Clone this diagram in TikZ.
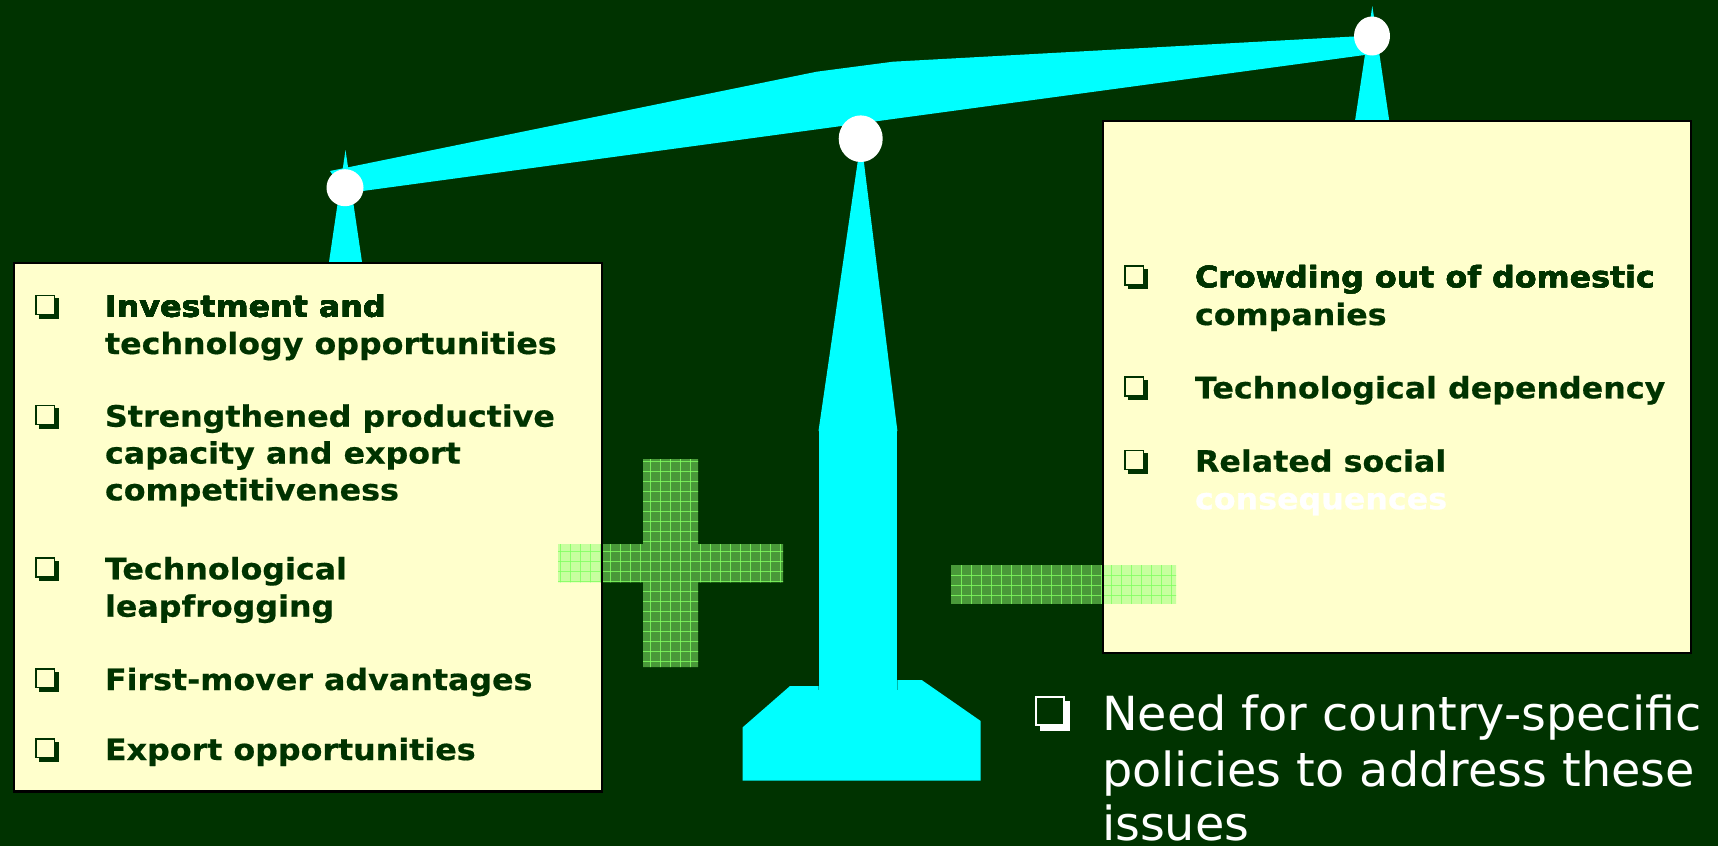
\documentclass[tikz,border=0pt]{standalone}
\usepackage{fontspec}
\setmainfont{DejaVu Sans}
\newfontfamily\itemfont{DejaVu Sans Bold}[FakeStretch=1.075, FakeBold=0.6]
\newfontfamily\notefont{DejaVu Sans}[FakeStretch=1.015]
\definecolor{bgdark}{RGB}{0,51,0}
\definecolor{beamcyan}{RGB}{0,255,255}
\definecolor{paper}{RGB}{255,255,204}
\definecolor{textgreen}{RGB}{0,51,0}
\definecolor{markgreen}{RGB}{146,255,115}
\definecolor{gridgreen}{RGB}{128,255,96}

% shadowed check box: x, top y, size, shadow, line colour, inner colour
\newcommand{\qbox}[6]{%
  \fill[#5] (#1+#4,#2+#4) rectangle (#1+#3,#2+#3);
  \filldraw[fill=#6, draw=#5, line width=1.5pt]
    (#1+0.8,#2+0.8) rectangle (#1+#3-#4-0.8,#2+#3-#4-0.8);}

\begin{document}
\begin{tikzpicture}[x=1pt,y=-1pt,
  metal/.style={fill=beamcyan},
  pin/.style={fill=white},
  panel/.style={fill=paper},
  panelrim/.style={draw=black, line width=2.6pt},
  markfill/.style={fill=markgreen, fill opacity=0.5},
  gridline/.style={draw=gridgreen, line width=0.9pt, opacity=0.8},
  itemtext/.style={anchor=base west, inner sep=0pt, outer sep=0pt,
    text=textgreen, font=\fontsize{29.5}{36}\itemfont},
  notetext/.style={anchor=base west, inner sep=0pt, outer sep=0pt,
    text=white, font=\fontsize{47}{58}\notefont}]

% background and page size
\fill[bgdark] (0,0) rectangle (1718,846);
\useasboundingbox (0,0) rectangle (1718,846);

% stand: tapered post, column and foot
\fill[metal] (861,139) -- (897.4,431) -- (818.5,431) -- cycle;
\fill[metal] (818.5,430) rectangle (897.4,690);
\fill[metal] (818.5,686) -- (790,686) -- (742.7,727.3) -- (742.7,780.7)
  -- (980.7,780.7) -- (980.7,721) -- (921.7,680) -- (897.4,680)
  -- (897.4,690) -- (818.5,690) -- cycle;

% hangers
\fill[metal] (345.5,150) -- (362,262) -- (329,262) -- cycle;
\fill[metal] (1372.3,6) -- (1389.3,121) -- (1355,121) -- cycle;

% beam
\fill[metal] (330,171) -- (816.7,71.7) -- (893,61.7) -- (1372,35.5)
  -- (1372,54) -- (345,193.4) -- cycle;

% pivots
\fill[pin] (345,187.7) circle (18.5);
\fill[pin] (860.7,138.7) ellipse (22 and 23.3);
\fill[pin] (1372,36) ellipse (18 and 19.5);

% panels
\fill[panel] (14,263) rectangle (602,791.7);
\fill[panel] (1103,121) rectangle (1691,653);

% plus sign
\begin{scope}
  \clip (643,459) -- (698,459) -- (698,544) -- (783,544) -- (783,582.3)
    -- (698,582.3) -- (698,667) -- (643,667) -- (643,582.3) -- (558,582.3)
    -- (558,544) -- (643,544) -- cycle;
  \fill[markfill] (550,450) rectangle (790,675);
  \foreach \k in {0,...,22} \draw[gridline] (560.3+10*\k,450) -- ++(0,225);
  \foreach \k in {0,...,20} \draw[gridline] (550,461.7+10*\k) -- ++(240,0);
\end{scope}

% minus sign
\begin{scope}
  \clip (951,565) rectangle (1176,603.3);
  \fill[markfill] (945,560) rectangle (1180,610);
  \foreach \k in {0,...,21} \draw[gridline] (961+10*\k,560) -- ++(0,50);
  \foreach \k in {0,...,2} \draw[gridline] (945,575+10*\k) -- ++(235,0);
\end{scope}

% panel rims
\draw[panelrim] (14,263) rectangle (602,791.7);
\draw[panelrim] (1103,121) rectangle (1691,653);

% left panel: benefits
\foreach \y in {316.7,426.7,579.3,690,760}
  \qbox{35}{\y-22}{24}{3.5}{textgreen}{paper}
\node[itemtext] (b1a) at (105,316.7) {Investment and};
\node[itemtext] (b1b) at (105,354) {technology opportunities};
\node[itemtext] (b2a) at (105,426.7) {Strengthened productive};
\node[itemtext] (b2b) at (105,463.5) {capacity and export};
\node[itemtext] (b2c) at (105,500.3) {competitiveness};
\node[itemtext] (b3a) at (105,579.3) {Technological};
\node[itemtext] (b3b) at (105,616.7) {leapfrogging};
\node[itemtext] (b4) at (105,690) {First-mover advantages};
\node[itemtext] (b5) at (105,760) {Export opportunities};

% right panel: risks
\foreach \y in {287.3,398.3,471.7}
  \qbox{1124}{\y-22}{24}{3.5}{textgreen}{paper}
\node[itemtext] (r1a) at (1195,287.3) {Crowding out of domestic};
\node[itemtext] (r1b) at (1195,325) {companies};
\node[itemtext] (r2) at (1195,398.3) {Technological dependency};
\node[itemtext] (r3a) at (1195,471.7) {Related social};
\node[itemtext, text=white] (r3b) at (1195,509.3) {consequences};

% closing note
\qbox{1035}{696}{35}{5}{white}{bgdark}
\node[notetext] (n1) at (1102,730) {Need for country-specific};
\node[notetext] (n2) at (1102,786.5) {policies to address these};
\node[notetext, text depth=0pt] (n3) at (1102,840) {issues};
\end{tikzpicture}
\end{document}
